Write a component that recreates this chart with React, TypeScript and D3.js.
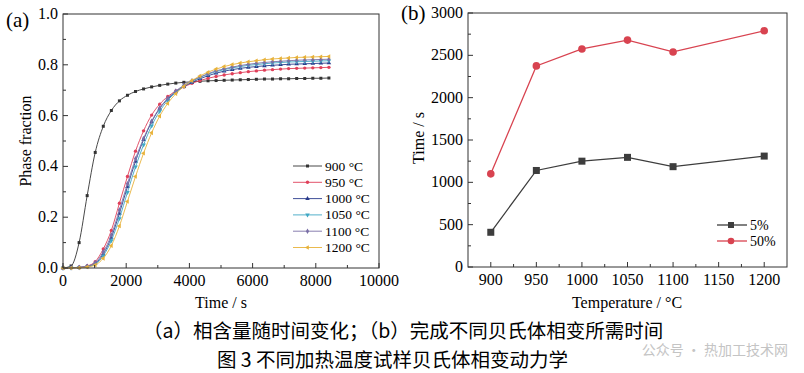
import React from 'react';
import * as d3 from 'd3';

// panel (a): phase fraction vs time
const times = [0, 255, 510, 765, 1020, 1275, 1530, 1785, 2040, 2295, 2550, 2805, 3060, 3315, 3570, 3825, 4080,
  4335, 4590, 4845, 5100, 5355, 5610, 5865, 6120, 6375, 6630, 6885, 7140, 7395, 7650, 7905, 8160, 8415];

const f900 = [0, 0.008, 0.1, 0.285, 0.455, 0.558, 0.62, 0.658, 0.68, 0.695, 0.705, 0.713, 0.719, 0.724, 0.728, 0.731, 0.733,
  0.735, 0.737, 0.738, 0.739, 0.74, 0.741, 0.742, 0.743, 0.744, 0.744, 0.745, 0.745, 0.746, 0.746, 0.747, 0.747, 0.748];
const f950 = [0, 0.001, 0.003, 0.008, 0.025, 0.075, 0.148, 0.255, 0.36, 0.46, 0.54, 0.602, 0.645, 0.675, 0.697, 0.713, 0.727,
  0.738, 0.747, 0.754, 0.76, 0.765, 0.769, 0.773, 0.776, 0.779, 0.781, 0.783, 0.785, 0.786, 0.787, 0.788, 0.789, 0.79];
const f1000 = [0, 0.001, 0.002, 0.006, 0.018, 0.055, 0.12, 0.215, 0.32, 0.42, 0.505, 0.575, 0.628, 0.665, 0.693, 0.714, 0.731,
  0.745, 0.757, 0.767, 0.775, 0.781, 0.786, 0.79, 0.793, 0.796, 0.798, 0.8, 0.802, 0.803, 0.804, 0.805, 0.806, 0.807];
const f1050 = [0, 0.001, 0.002, 0.005, 0.015, 0.048, 0.108, 0.195, 0.298, 0.398, 0.485, 0.56, 0.617, 0.66, 0.692, 0.716, 0.735,
  0.75, 0.763, 0.773, 0.781, 0.788, 0.793, 0.798, 0.801, 0.804, 0.807, 0.809, 0.811, 0.812, 0.813, 0.814, 0.815, 0.816];
const f1100 = [0, 0.001, 0.002, 0.007, 0.021, 0.063, 0.13, 0.228, 0.332, 0.43, 0.51, 0.578, 0.63, 0.668, 0.697, 0.719, 0.737,
  0.752, 0.765, 0.776, 0.784, 0.791, 0.797, 0.802, 0.806, 0.809, 0.812, 0.814, 0.816, 0.818, 0.819, 0.82, 0.821, 0.822];
const f1200 = [0, 0, 0.001, 0.004, 0.012, 0.038, 0.088, 0.165, 0.262, 0.36, 0.452, 0.532, 0.598, 0.648, 0.686, 0.715, 0.738,
  0.756, 0.771, 0.783, 0.793, 0.801, 0.807, 0.812, 0.816, 0.82, 0.823, 0.825, 0.827, 0.829, 0.83, 0.831, 0.832, 0.833];

const seriesA = [
  { name: '900 °C', values: f900, color: '#333333', symbol: d3.symbolSquare, rot: 0 },
  { name: '950 °C', values: f950, color: '#e0405a', symbol: d3.symbolCircle, rot: 0 },
  { name: '1000 °C', values: f1000, color: '#2a3c8c', symbol: d3.symbolTriangle, rot: 0 },
  { name: '1050 °C', values: f1050, color: '#3fa7c4', symbol: d3.symbolTriangle, rot: 180 },
  { name: '1100 °C', values: f1100, color: '#7a6fa6', symbol: d3.symbolDiamond, rot: 0 },
  { name: '1200 °C', values: f1200, color: '#e8b23a', symbol: d3.symbolTriangle, rot: -90 },
];

const xTicksA = [0, 2000, 4000, 6000, 8000, 10000];
const yTicksA = [0, 0.2, 0.4, 0.6, 0.8, 1.0];

// panel (b): time to reach 5% / 50% transformation
const temps = [900, 950, 1000, 1050, 1100, 1200];
const t5 = [410, 1140, 1250, 1295, 1185, 1310];
const t50 = [1100, 2375, 2575, 2680, 2540, 2790];
const xTicksB = [900, 950, 1000, 1050, 1100, 1150, 1200];
const yTicksB = [0, 500, 1000, 1500, 2000, 2500, 3000];

const serif = '"Liberation Serif", "Times New Roman", serif';
const cjk = '"Noto Sans CJK SC", sans-serif';

function Frame({ x, y }: any) {
  const [x0, x1] = x.range();
  const [y0, y1] = y.range();
  return <rect x={x0} y={y1} width={x1 - x0} height={y0 - y1} fill="none" stroke="#333" strokeWidth={1} />;
}

function PanelA() {
  const x = d3.scaleLinear().domain([0, 10000]).range([63, 379]);
  const y = d3.scaleLinear().domain([0, 1]).range([268, 14]);
  const line = d3.line<number>().x((d, i) => x(times[i])).y(d => y(d)).curve(d3.curveMonotoneX);
  const minorX = d3.range(1000, 10000, 2000);
  const minorY = d3.range(0.1, 1, 0.2);
  return (
    <g>
      {seriesA.map(s => (
        <g key={s.name}>
          <path d={line(s.values) || ''} fill="none" stroke={s.color} strokeWidth={0.9} />
          {s.values.map((v, i) => (
            <path key={i} d={d3.symbol(s.symbol, 9)() || ''}
              transform={`translate(${x(times[i])},${y(v)}) rotate(${s.rot})`} fill={s.color} />
          ))}
        </g>
      ))}
      <Frame x={x} y={y} />
      {xTicksA.map(t => (
        <g key={t}>
          <line x1={x(t)} x2={x(t)} y1={268} y2={263} stroke="#333" />
          <text x={x(t)} y={286} textAnchor="middle" fontFamily={serif} fontSize={16}>{t}</text>
        </g>
      ))}
      {minorX.map(t => <line key={t} x1={x(t)} x2={x(t)} y1={268} y2={265} stroke="#333" />)}
      {yTicksA.map(t => (
        <g key={t}>
          <line x1={63} x2={68} y1={y(t)} y2={y(t)} stroke="#333" />
          <text x={58} y={y(t) + 5} textAnchor="end" fontFamily={serif} fontSize={16}>{t.toFixed(1)}</text>
        </g>
      ))}
      {minorY.map(t => <line key={t} x1={63} x2={66} y1={y(t)} y2={y(t)} stroke="#333" />)}
      <text x={221} y={308} textAnchor="middle" fontFamily={serif} fontSize={16}>Time / s</text>
      <text transform="translate(31,141) rotate(-90)" textAnchor="middle" fontFamily={serif} fontSize={16}>Phase fraction</text>
      <text x={6} y={27} fontFamily={serif} fontSize={21}>(a)</text>
      {seriesA.map((s, i) => (
        <g key={s.name} transform={`translate(0,${166 + i * 16.3})`}>
          <line x1={293} x2={322} y1={0} y2={0} stroke={s.color} strokeWidth={0.9} />
          <path d={d3.symbol(s.symbol, 9)() || ''} transform={`translate(307.5,0) rotate(${s.rot})`} fill={s.color} />
          <text x={325} y={4.5} fontFamily={serif} fontSize={13.5}>{s.name}</text>
        </g>
      ))}
    </g>
  );
}

function PanelB() {
  const x = d3.scaleLinear().domain([875, 1225]).range([468, 787]);
  const y = d3.scaleLinear().domain([0, 3000]).range([267, 13]);
  const line = d3.line<number>().x((d, i) => x(temps[i])).y(d => y(d));
  const minorX = d3.range(925, 1225, 50);
  const minorY = d3.range(250, 3000, 500);
  const c5 = '#3d3d3d';
  const c50 = '#d84350';
  return (
    <g>
      <path d={line(t5) || ''} fill="none" stroke={c5} strokeWidth={1.3} />
      {t5.map((v, i) => <rect key={i} x={x(temps[i]) - 3.5} y={y(v) - 3.5} width={7} height={7} fill={c5} />)}
      <path d={line(t50) || ''} fill="none" stroke={c50} strokeWidth={1.3} />
      {t50.map((v, i) => <circle key={i} cx={x(temps[i])} cy={y(v)} r={3.8} fill={c50} />)}
      <Frame x={x} y={y} />
      {xTicksB.map(t => (
        <g key={t}>
          <line x1={x(t)} x2={x(t)} y1={267} y2={262} stroke="#333" />
          <text x={x(t)} y={285} textAnchor="middle" fontFamily={serif} fontSize={16}>{t}</text>
        </g>
      ))}
      {minorX.map(t => <line key={t} x1={x(t)} x2={x(t)} y1={267} y2={264} stroke="#333" />)}
      {yTicksB.map(t => (
        <g key={t}>
          <line x1={468} x2={473} y1={y(t)} y2={y(t)} stroke="#333" />
          <text x={463} y={y(t) + 5} textAnchor="end" fontFamily={serif} fontSize={16}>{t}</text>
        </g>
      ))}
      {minorY.map(t => <line key={t} x1={468} x2={471} y1={y(t)} y2={y(t)} stroke="#333" />)}
      <text x={627} y={308} textAnchor="middle" fontFamily={serif} fontSize={16}>Temperature / °C</text>
      <text transform="translate(424,138) rotate(-90)" textAnchor="middle" fontFamily={serif} fontSize={16}>Time / s</text>
      <text x={401} y={20} fontFamily={serif} fontSize={21}>(b)</text>
      <g transform="translate(0,225)">
        <line x1={717} x2={747} y1={0} y2={0} stroke={c5} strokeWidth={1.3} />
        <rect x={728} y={-3} width={6} height={6} fill={c5} />
        <text x={750} y={5} fontFamily={serif} fontSize={14}>5%</text>
      </g>
      <g transform="translate(0,241)">
        <line x1={717} x2={747} y1={0} y2={0} stroke={c50} strokeWidth={1.3} />
        <circle cx={731} cy={0} r={3.3} fill={c50} />
        <text x={750} y={5} fontFamily={serif} fontSize={14}>50%</text>
      </g>
    </g>
  );
}

export default function App() {
  return (
    <svg width={804} height={373} style={{ position: 'absolute', left: 0, top: 0, background: '#fff' }}>
      <rect width={804} height={373} fill="#fff" />
      <PanelA />
      <PanelB />
      <text x={143} y={338} fontFamily={cjk} fontSize={19.5}>（a）相含量随时间变化；（b）完成不同贝氏体相变所需时间</text>
      <text x={217} y={367} fontFamily={cjk} fontSize={19.5}>图 3 不同加热温度试样贝氏体相变动力学</text>
      <text x={788} y={355} textAnchor="end" fontFamily={cjk} fontSize={14} fill="#c4c4c4">公众号 · 热加工技术网</text>
    </svg>
  );
}
